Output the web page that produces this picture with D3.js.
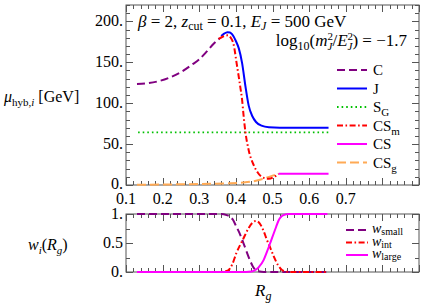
<!DOCTYPE html>
<html>
<head>
<meta charset="utf-8">
<script src="https://cdn.jsdelivr.net/npm/d3@7"></script>
<style>
  body { margin: 0; background: #fff; }
  text { font-family: "Liberation Serif", "DejaVu Serif", serif; fill: #000; }
</style>
</head>
<body>
<svg width="433" height="303"></svg>
<script>
// ---- data ----
const cCurve = [[0.13,123.5],[0.16,124.5],[0.19,127],[0.22,131.5],[0.25,138],[0.28,147],[0.30,153.5],[0.32,163],[0.34,173],[0.355,179]];
const jCurve = [[0.36,182],[0.368,185],[0.377,186.8],[0.384,186.5],[0.39,184],[0.40,176],[0.408,167],[0.417,149],[0.426,121],[0.435,97],[0.445,84],[0.455,77],[0.47,72.5],[0.49,70.5],[0.52,70],[0.653,70]];
const sgCurve = [[0.133,64.2],[0.653,64.2]];
const csmCurve = [[0.353,178.5],[0.365,181.5],[0.378,183],[0.386,180],[0.394,171.5],[0.402,149],[0.412,120],[0.417,104],[0.421,85],[0.426,65],[0.435,42.5],[0.449,24],[0.46,15],[0.472,9.5],[0.49,7.5],[0.505,10],[0.517,13.8]];
const csCurve = [[0.517,13.8],[0.653,13.8]];
const csgCurve = [[0.13,0.3],[0.2,0.6],[0.3,1.2],[0.38,2],[0.42,3],[0.44,4],[0.46,5.7],[0.476,7.8],[0.49,9.8],[0.503,11.8],[0.517,13.8]];

const wSmall = [[0.13,1],[0.36,1],[0.375,0.98],[0.385,0.95],[0.392,0.9],[0.40,0.8],[0.41,0.67],[0.424,0.44],[0.438,0.21],[0.446,0.1],[0.455,0.03],[0.47,0.005],[0.49,0],[0.65,0]];
const wInt = [[0.13,0],[0.35,0],[0.365,0.005],[0.379,0.03],[0.39,0.13],[0.401,0.32],[0.42,0.57],[0.435,0.76],[0.447,0.86],[0.455,0.88],[0.467,0.82],[0.476,0.7],[0.485,0.55],[0.495,0.4],[0.504,0.26],[0.515,0.12],[0.527,0.03],[0.54,0.005],[0.56,0],[0.65,0]];
const wLarge = [[0.13,0],[0.42,0],[0.435,0.003],[0.449,0.02],[0.462,0.08],[0.476,0.21],[0.485,0.35],[0.495,0.52],[0.503,0.66],[0.51,0.78],[0.516,0.88],[0.522,0.94],[0.53,0.98],[0.545,1],[0.65,1]];

const xTickLabels = ["0.1","0.2","0.3","0.4","0.5","0.6","0.7"];
const topYTicks = [0, 50, 100, 150, 200];
const topYLabels = ["0.", "50.", "100.", "150.", "200."];
const botYTicks = [0, 0.5, 1];
const botYLabels = ["0.", "0.5", "1."];

const svg = d3.select('svg');
const frameColor = '#555';

const x = d3.scaleLinear().domain([0.1, 0.9]).range([126, 419]);
const yTop = d3.scaleLinear().domain([0, 220]).range([185, 5]);
const yBot = d3.scaleLinear().domain([0, 1]).range([272, 214]);

function frame(y, yMajor, yMinor) {
  const g = svg.append('g');
  const [y0, y1] = y.range();
  const [x0, x1] = x.range();
  g.append('rect')
    .attr('x', x0).attr('y', y1)
    .attr('width', x1 - x0).attr('height', y0 - y1)
    .attr('fill', 'none').attr('stroke', frameColor).attr('stroke-width', 1);

  const xMinor = d3.range(0.1, 0.9001, 0.02);
  xMinor.forEach(v => {
    const major = Math.abs(v * 10 - Math.round(v * 10)) < 1e-6;
    const len = major ? 7 : 4;
    const px = Math.round(x(v)) + 0.5;
    g.append('line').attr('x1', px).attr('x2', px).attr('y1', y0).attr('y2', y0 - len)
      .attr('stroke', frameColor);
    g.append('line').attr('x1', px).attr('x2', px).attr('y1', y1).attr('y2', y1 + len)
      .attr('stroke', frameColor);
  });
  yMinor.forEach(v => {
    const major = yMajor.some(m => Math.abs(m - v) < 1e-6);
    const len = major ? 7 : 4;
    const py = Math.round(y(v)) + 0.5;
    g.append('line').attr('x1', x0).attr('x2', x0 + len).attr('y1', py).attr('y2', py)
      .attr('stroke', frameColor);
    g.append('line').attr('x1', x1).attr('x2', x1 - len).attr('y1', py).attr('y2', py)
      .attr('stroke', frameColor);
  });
}

frame(yTop, topYTicks, d3.range(0, 221, 10));
frame(yBot, botYTicks, [0, 0.25, 0.5, 0.75, 1]);

// tick labels
svg.append('g').selectAll('text')
  .data(xTickLabels)
  .enter().append('text')
  .attr('x', d => x(+d))
  .attr('y', 204)
  .attr('text-anchor', 'middle')
  .attr('font-size', 16)
  .text(d => d);

svg.append('g').selectAll('text')
  .data(topYTicks)
  .enter().append('text')
  .attr('x', 123)
  .attr('y', d => d === 0 ? 189 : yTop(d) + 5)
  .attr('text-anchor', 'end')
  .attr('font-size', 16)
  .text((d, i) => topYLabels[i]);

svg.append('g').selectAll('text')
  .data(botYTicks)
  .enter().append('text')
  .attr('x', 123)
  .attr('y', d => yBot(d) + 5)
  .attr('text-anchor', 'end')
  .attr('font-size', 16)
  .text((d, i) => botYLabels[i]);

// curves
const lineTop = d3.line().x(d => x(d[0])).y(d => yTop(d[1])).curve(d3.curveMonotoneX);
const lineBot = d3.line().x(d => x(d[0])).y(d => yBot(d[1])).curve(d3.curveMonotoneX);

const styles = {
  C:   { color: '#800080', dash: '8,4' },
  J:   { color: '#0000ff', dash: null },
  SG:  { color: '#00c000', dash: '1.6,3' },
  CSm: { color: '#ff0000', dash: '6,2.5,1.6,2.5' },
  CS:  { color: '#ff00ff', dash: null },
  CSg: { color: '#ffaa55', dash: '9,4' }
};

const topSeries = [
  ['SG', sgCurve], ['CSg', csgCurve], ['C', cCurve], ['J', jCurve], ['CSm', csmCurve], ['CS', csCurve]
];
topSeries.forEach(([k, data]) => {
  svg.append('path')
    .attr('d', lineTop(data))
    .attr('fill', 'none')
    .attr('stroke', styles[k].color)
    .attr('stroke-width', k === 'SG' ? 1.8 : 2)
    .attr('stroke-dasharray', styles[k].dash);
});

const botSeries = [['C', wSmall], ['CSm', wInt], ['CS', wLarge]];
botSeries.forEach(([k, data]) => {
  svg.append('path')
    .attr('d', lineBot(data))
    .attr('fill', 'none')
    .attr('stroke', styles[k].color)
    .attr('stroke-width', 2)
    .attr('stroke-dasharray', styles[k].dash);
});

// legends
function sub(t, main, s) {
  t.append('tspan').text(main);
  t.append('tspan').attr('font-size', 11).attr('dy', 4).text(s);
}

const topLegend = [
  ['C', 'C', ''], ['J', 'J', ''], ['SG', 'S', 'G'], ['CSm', 'CS', 'm'], ['CS', 'CS', ''], ['CSg', 'CS', 'g']
];
topLegend.forEach(([k, main, s], i) => {
  const ly = 70 + i * 18.5;
  svg.append('line').attr('x1', 337).attr('x2', 367).attr('y1', ly).attr('y2', ly)
    .attr('stroke', styles[k].color).attr('stroke-width', 2)
    .attr('stroke-dasharray', styles[k].dash);
  const t = svg.append('text').attr('x', 373).attr('y', ly + 5).attr('font-size', 15);
  sub(t, main, s);
});

const botLegend = [['C', 'small'], ['CSm', 'int'], ['CS', 'large']];
botLegend.forEach(([k, s], i) => {
  const ly = 230 + i * 12.5;
  svg.append('line').attr('x1', 346).attr('x2', 368).attr('y1', ly).attr('y2', ly)
    .attr('stroke', styles[k].color).attr('stroke-width', 2)
    .attr('stroke-dasharray', styles[k].dash);
  const t = svg.append('text').attr('x', 372).attr('y', ly + 3).attr('font-size', 14);
  t.append('tspan').attr('font-style', 'italic').text('w');
  t.append('tspan').attr('font-size', 10).attr('dy', 2).text(s);
});

// annotations
const a1 = svg.append('text').attr('x', 138).attr('y', 27).attr('font-size', 17);
a1.append('tspan').attr('font-style', 'italic').text('β');
a1.append('tspan').text(' = 2, ');
a1.append('tspan').attr('font-style', 'italic').text('z');
a1.append('tspan').attr('font-size', 12).attr('dy', 3).text('cut');
a1.append('tspan').attr('dy', -3).text(' = 0.1, ');
a1.append('tspan').attr('font-style', 'italic').text('E');
a1.append('tspan').attr('font-size', 12).attr('font-style', 'italic').attr('dy', 3).text('J');
a1.append('tspan').attr('dy', -3).text(' = 500 GeV');

const a2 = svg.append('text').attr('x', 407).attr('y', 46).attr('font-size', 17).attr('text-anchor', 'end');
a2.append('tspan').text('log');
a2.append('tspan').attr('font-size', 12).attr('dy', 4).text('10');
a2.append('tspan').attr('dy', -4).text('(');
a2.append('tspan').attr('font-style', 'italic').text('m');
a2.append('tspan').attr('font-size', 11).attr('dy', -6).text('2');
a2.append('tspan').attr('font-size', 11).attr('font-style', 'italic').attr('dx', -5.5).attr('dy', 10).text('J');
a2.append('tspan').attr('dy', -4).text('/');
a2.append('tspan').attr('font-style', 'italic').text('E');
a2.append('tspan').attr('font-size', 11).attr('dy', -6).text('2');
a2.append('tspan').attr('font-size', 11).attr('font-style', 'italic').attr('dx', -5.5).attr('dy', 10).text('J');
a2.append('tspan').attr('dy', -4).text(') = −1.7');

// axis titles
const yl = svg.append('text').attr('x', 4).attr('y', 102).attr('font-size', 16);
yl.append('tspan').attr('font-style', 'italic').text('μ');
yl.append('tspan').attr('font-size', 11).attr('dy', 4).text('hyb,');
yl.append('tspan').attr('font-size', 11).attr('font-style', 'italic').text('i');
yl.append('tspan').attr('dy', -4).text(' [GeV]');

const wl = svg.append('text').attr('x', 28).attr('y', 250).attr('font-size', 16);
wl.append('tspan').attr('font-style', 'italic').text('w');
wl.append('tspan').attr('font-size', 11).attr('font-style', 'italic').attr('dy', 4).text('i');
wl.append('tspan').attr('dy', -4).text('(');
wl.append('tspan').attr('font-style', 'italic').text('R');
wl.append('tspan').attr('font-size', 11).attr('font-style', 'italic').attr('dy', 4).text('g');
wl.append('tspan').attr('dy', -4).text(')');

const xl = svg.append('text').attr('x', 255).attr('y', 296).attr('font-size', 17);
xl.append('tspan').attr('font-style', 'italic').text('R');
xl.append('tspan').attr('font-size', 12).attr('font-style', 'italic').attr('dy', 4).text('g');
</script>
</body>
</html>
